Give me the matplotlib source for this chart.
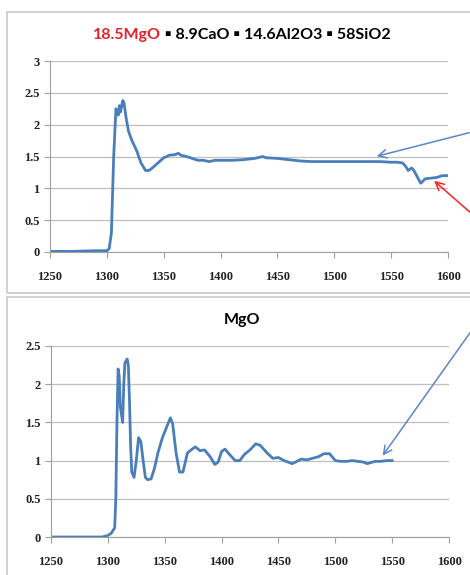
import matplotlib
matplotlib.use('Agg')
import matplotlib.pyplot as plt
from matplotlib.patches import Rectangle, FancyArrowPatch

# composition melt (top panel)
x_top = [1250, 1270, 1290, 1300, 1302, 1304, 1306, 1308, 1309, 1310, 1311, 1312, 1314, 1315,
         1317, 1319, 1322, 1326, 1330, 1334, 1337, 1340, 1345, 1350, 1355, 1360, 1363, 1365,
         1370, 1375, 1380, 1385, 1390, 1395, 1400, 1410, 1420, 1430, 1437, 1440, 1450, 1460,
         1470, 1480, 1490, 1500, 1510, 1520, 1530, 1540, 1550, 1555, 1560, 1563, 1565, 1568,
         1570, 1573, 1576, 1580, 1585, 1590, 1595, 1600]
y_top = [0.01, 0.01, 0.02, 0.02, 0.05, 0.3, 1.5, 2.25, 2.2, 2.15, 2.3, 2.2, 2.38, 2.35,
         2.1, 1.9, 1.75, 1.6, 1.4, 1.28, 1.28, 1.32, 1.4, 1.48, 1.52, 1.53, 1.55, 1.52,
         1.5, 1.47, 1.44, 1.44, 1.42, 1.44, 1.44, 1.44, 1.45, 1.47, 1.50, 1.48, 1.47, 1.45,
         1.43, 1.42, 1.42, 1.42, 1.42, 1.42, 1.42, 1.42, 1.41, 1.41, 1.40, 1.34, 1.28, 1.32,
         1.28, 1.18, 1.08, 1.15, 1.16, 1.17, 1.2, 1.2]

# pure MgO (bottom panel)
x_mgo = [1250, 1270, 1295, 1300, 1303, 1306, 1307, 1308, 1309, 1310, 1311, 1313, 1314, 1315,
         1317, 1318, 1319, 1320, 1321, 1323, 1325, 1327, 1329, 1331, 1333, 1335, 1338, 1341,
         1344, 1348, 1352, 1355, 1357, 1360, 1363, 1366, 1370, 1374, 1377, 1381, 1385, 1390,
         1394, 1397, 1400, 1403, 1407, 1412, 1416, 1420, 1425, 1430, 1434, 1440, 1445, 1450,
         1455, 1462, 1465, 1470, 1475, 1480, 1485, 1490, 1495, 1500, 1505, 1510, 1515, 1520,
         1525, 1528, 1535, 1540, 1545, 1550]
y_mgo = [0, 0, 0, 0.02, 0.05, 0.12, 0.5, 1.5, 2.2, 2.1, 1.7, 1.5, 2.0, 2.28,
         2.33, 2.25, 1.8, 1.2, 0.85, 0.78, 1.0, 1.3, 1.25, 1.0, 0.78, 0.75, 0.76, 0.9,
         1.1, 1.3, 1.45, 1.56, 1.48, 1.1, 0.85, 0.85, 1.1, 1.15, 1.18, 1.13, 1.14, 1.05,
         0.95, 0.98, 1.12, 1.15, 1.08, 1.0, 1.0, 1.08, 1.14, 1.22, 1.2, 1.1, 1.03, 1.04,
         1.0, 0.96, 0.98, 1.02, 1.01, 1.03, 1.05, 1.09, 1.09, 1.0, 0.99, 0.99, 1.0, 0.99,
         0.98, 0.96, 0.99, 0.99, 1.0, 1.0]

W, H = 470, 575
LINE = '#4a7ebb'
fig = plt.figure(figsize=(W / 100, H / 100), dpi=100)

def px(x0, y0, x1, y1):
    # pixel box (top-left origin) -> figure fraction rect
    return [x0 / W, 1 - y1 / H, (x1 - x0) / W, (y1 - y0) / H]

# panel frames
for y0, y1 in [(12, 293), (297, 590)]:
    fig.add_artist(Rectangle((7 / W, 1 - y1 / H), (W + 20 - 7) / W, (y1 - y0) / H,
                             transform=fig.transFigure, fill=False, ec='#c8c8c8', lw=1.2))

def style(ax, yticks, ylabels):
    ax.set_xlim(1250, 1600)
    ax.set_xticks(range(1250, 1601, 50))
    ax.set_yticks(yticks)
    ax.set_yticklabels(ylabels)
    ax.grid(axis='y', color='#bfbfbf', lw=0.9)
    ax.set_axisbelow(True)
    for s in ['top', 'right']:
        ax.spines[s].set_visible(False)
    for s in ['left', 'bottom']:
        ax.spines[s].set_color('#a0a0a0')
    ax.tick_params(colors='#a0a0a0', labelcolor='#222222', length=4)
    for lab in ax.get_xticklabels() + ax.get_yticklabels():
        lab.set_family('Liberation Serif')
        lab.set_fontsize(9)
        lab.set_fontweight('bold')
    ax.tick_params(axis='x', pad=10)

ax1 = fig.add_axes(px(50, 61, 448, 252))
ax1.plot(x_top, y_top, color=LINE, lw=2)
ax1.set_ylim(0, 3)
style(ax1, [0, 0.5, 1, 1.5, 2, 2.5, 3], ['0', '0.5', '1', '1.5', '2', '2.5', '3'])

ax2 = fig.add_axes(px(51, 346, 449, 537))
ax2.plot(x_mgo, y_mgo, color=LINE, lw=2)
ax2.set_ylim(0, 2.5)
style(ax2, [0, 0.5, 1, 1.5, 2, 2.5], ['0', '0.5', '1', '1.5', '2', '2.5'])

# titles
tfont = dict(family='Lato', fontsize=11.5, fontweight='bold', va='center')
parts = [('18.5MgO', '#e8202a'), (' \u25aa 8.9CaO \u25aa 14.6Al2O3 \u25aa 58SiO2', 'black')]
fig.canvas.draw()
r = fig.canvas.get_renderer()
widths = []
for s, c in parts:
    t = fig.text(0, 0, s, **tfont)
    widths.append(t.get_window_extent(r).width)
    t.remove()
xpos = 242 - sum(widths) / 2
for (s, c), w in zip(parts, widths):
    fig.text(xpos / W, 1 - 35 / H, s, color=c, ha='left', **tfont)
    xpos += w
fig.text(242 / W, 1 - 320 / H, 'MgO', ha='center', **tfont)

# arrows
def arrow(p0, p1, color):
    a = FancyArrowPatch((p0[0] / W, 1 - p0[1] / H), (p1[0] / W, 1 - p1[1] / H),
                        transform=fig.transFigure, arrowstyle='->,head_length=6,head_width=3',
                        color=color, lw=1.1)
    fig.add_artist(a)

arrow((472, 132), (374, 157), '#5b87c8')
arrow((472, 214), (432, 179), '#ff2020')
arrow((472, 330), (381, 458), '#5b87c8')

fig.savefig('out.png', dpi=100)
